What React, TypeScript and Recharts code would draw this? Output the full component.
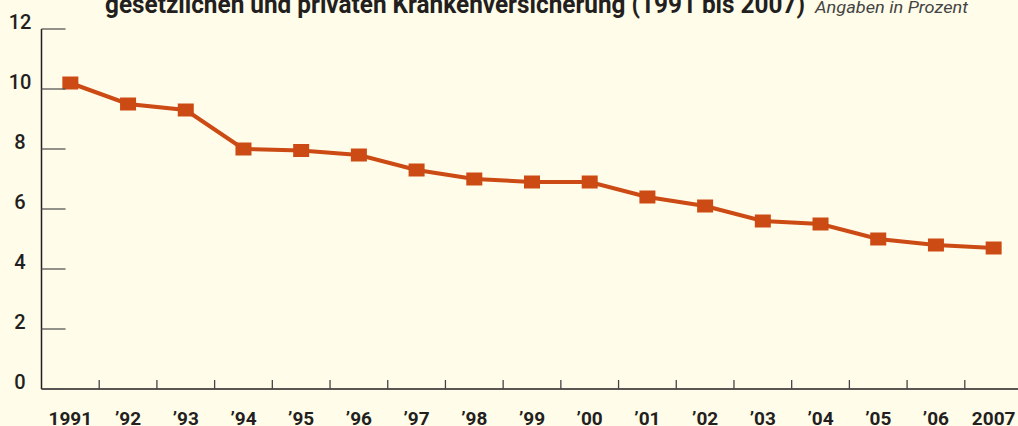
import React from 'react';
import { LineChart, Line, XAxis, YAxis } from 'recharts';

const years = ['1991', '’92', '’93', '’94', '’95', '’96', '’97', '’98', '’99', '’00', '’01', '’02', '’03', '’04', '’05', '’06', '2007'];
const rates = [10.2, 9.5, 9.3, 8.0, 7.95, 7.8, 7.3, 7.0, 6.9, 6.9, 6.4, 6.1, 5.6, 5.5, 5.0, 4.8, 4.7];
const yTicks = [0, 2, 4, 6, 8, 10, 12];
const titleText = 'gesetzlichen und privaten Krankenversicherung (1991 bis 2007)';
const unitText = 'Angaben in Prozent';

const data = years.map((year, i) => ({ year, rate: rates[i] }));

const BG = '#FFFCE9';
const INK = '#231F20';
const ORANGE = '#CC4A14';
const FONT = 'Roboto, "Liberation Sans", sans-serif';

const YTick = (props: any) => {
  const { x, y, payload } = props;
  return (
    <g>
      <line x1={x} y1={y} x2={x + 24} y2={y} stroke="#555" strokeWidth={1.3} />
      <text x={x - 21.5} y={y} textAnchor="middle" fontFamily={FONT} fontWeight={500} fontSize={20} fill={INK}>
        {payload.value}
      </text>
    </g>
  );
};

const XTick = (props: any) => {
  const { x, y, payload } = props;
  const half = payload.offset || 28.85;
  return (
    <g>
      <line x1={x + half} y1={y - 9} x2={x + half} y2={y} stroke="#444" strokeWidth={1.3} />
      <text x={x} y={y + 36} textAnchor="middle" fontFamily={FONT} fontWeight={700} fontSize={19} fill={INK}>
        {payload.value}
      </text>
    </g>
  );
};

const SquareDot = (props: any) => {
  const { cx, cy, index } = props;
  if (cx == null || cy == null) return null;
  return <rect key={`dot-${index}`} x={cx - 8} y={cy - 6.5} width={16} height={13} fill={ORANGE} />;
};

export default function App() {
  return (
    <div style={{ position: 'fixed', left: 0, top: 0, width: 1018, height: 426, overflow: 'hidden', background: BG }}>
      <LineChart width={1030} height={426} data={data} margin={{ top: 29, right: 7.5, bottom: 0, left: 0 }}>
        <YAxis
          domain={[0, 12]}
          ticks={yTicks}
          width={41.5}
          interval={0}
          tickSize={0}
          tickMargin={0}
          tickLine={false}
          axisLine={{ stroke: INK, strokeWidth: 1.5 }}
          tick={<YTick />}
        />
        <XAxis
          dataKey="year"
          scale="band"
          height={37}
          interval={0}
          tickSize={0}
          tickMargin={0}
          tickLine={false}
          axisLine={{ stroke: INK, strokeWidth: 1.5 }}
          tick={<XTick />}
        />
        <Line
          type="linear"
          dataKey="rate"
          stroke={ORANGE}
          strokeWidth={4}
          dot={<SquareDot />}
          activeDot={false}
          isAnimationActive={false}
        />
      </LineChart>
      <svg width={1018} height={30} style={{ position: 'absolute', left: 0, top: 0 }}>
        <text x={105} y={13} textLength={700} lengthAdjust="spacingAndGlyphs" fontFamily={FONT} fontWeight={700} fontSize={25} fill={INK}>
          {titleText}
        </text>
        <text x={815} y={13} textLength={153} lengthAdjust="spacingAndGlyphs" fontFamily={FONT} fontStyle="italic" fontSize={16} fill="#444">
          {unitText}
        </text>
      </svg>
    </div>
  );
}
